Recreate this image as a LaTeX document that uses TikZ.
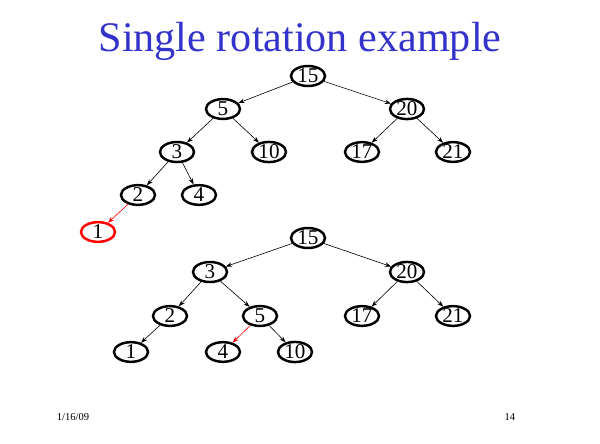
\documentclass[tikz,border=0pt]{standalone}
\usepackage{fontspec}
\setmainfont{Liberation Serif}
\usetikzlibrary{shapes.geometric,arrows.meta}
\definecolor{titleblue}{RGB}{51,51,204}
\tikzset{
  key/.style={draw,ellipse,line width=1.4pt,minimum width=0.68cm,minimum height=0.3cm,inner sep=0pt,font=\fontsize{12}{12}\selectfont},
  badkey/.style={key,draw=red},
  link/.style={-{Stealth[length=3.5pt,width=2.5pt]},line width=0.35pt},
  badlink/.style={link,red}
}
\begin{document}
\begin{tikzpicture}[x=0.02cm,y=-0.02cm]
\useasboundingbox (0,0) rectangle (600,444);
\node[text=titleblue,font=\fontsize{24}{24}\selectfont] (title) at (300,41) {Single rotation example};
% before the rotation
\node[key] (a15) at (308,76) {15};
\node[key] (a5) at (223,109) {5};
\node[key] (a20) at (407,109) {20};
\node[key] (a3) at (177,152) {3};
\node[key] (a10) at (269,152) {10};
\node[key] (a17) at (362,152) {17};
\node[key] (a21) at (453,152) {21};
\node[key] (a2) at (138,195) {2};
\node[key] (a4) at (199,195) {4};
\node[badkey] (a1) at (98,232) {1};
\draw[link] (a15)--(a5);
\draw[link] (a15)--(a20);
\draw[link] (a5)--(a3);
\draw[link] (a5)--(a10);
\draw[link] (a20)--(a17);
\draw[link] (a20)--(a21);
\draw[link] (a3)--(a2);
\draw[link] (a3)--(a4);
\draw[badlink] (a2)--(a1);
% after the rotation
\node[key] (b15) at (308,238) {15};
\node[key] (b3) at (210,272) {3};
\node[key] (b20) at (407,272) {20};
\node[key] (b2) at (170,316) {2};
\node[key] (b5) at (260,316) {5};
\node[key] (b17) at (362,316) {17};
\node[key] (b21) at (453,316) {21};
\node[key] (b1) at (131,352) {1};
\node[key] (b4) at (223,352) {4};
\node[key] (b10) at (295,352) {10};
\draw[link] (b15)--(b3);
\draw[link] (b15)--(b20);
\draw[link] (b3)--(b2);
\draw[link] (b3)--(b5);
\draw[link] (b20)--(b17);
\draw[link] (b20)--(b21);
\draw[link] (b2)--(b1);
\draw[badlink] (b5)--(b4);
\draw[link] (b5)--(b10);
% footer
\node[font=\fontsize{6}{6}\selectfont] (date) at (73,417) {1/16/09};
\node[font=\fontsize{6}{6}\selectfont] (page) at (510,417) {14};
\end{tikzpicture}
\end{document}
